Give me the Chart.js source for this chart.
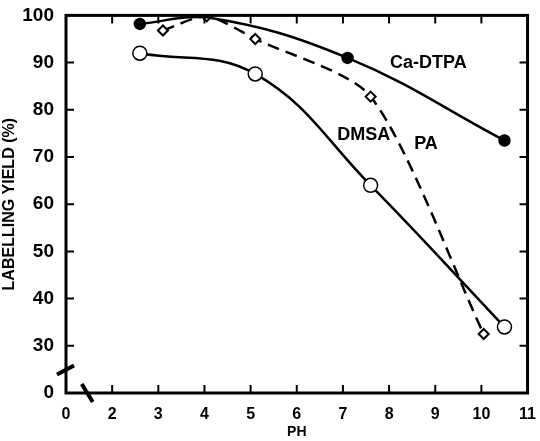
<!DOCTYPE html>
<html>
<head>
<meta charset="utf-8">
<script src="https://cdn.jsdelivr.net/npm/chart.js@4/dist/chart.umd.min.js"></script>
<style>
  html, body { margin: 0; padding: 0; background: #fff; }
  #wrap { width: 540px; height: 441px; }
</style>
</head>
<body>
<div id="wrap"><canvas id="mainChart"></canvas></div>
<script>
// pH values and labelling yields
const caDtpaPh = [2.6, 4.05, 7.1, 10.5];
const caDtpaYield = [98.2, 99.6, 91, 73.5];
const paPh = [3.1, 4.05, 5.1, 7.6, 10.05];
const paYield = [96.8, 99.8, 95, 82.8, 32.5];
const dmsaPh = [2.6, 5.1, 7.6, 10.5];
const dmsaYield = [92, 87.6, 64, 34];
// axis is broken: first tick is labelled 0
const xTicks = [1, 2, 3, 4, 5, 6, 7, 8, 9, 10, 11];
const yTicks = [20, 30, 40, 50, 60, 70, 80, 90, 100];

const FONT = "'Liberation Sans', Arial, sans-serif";
const toXY = (xs, ys) => xs.map((x, i) => ({ x: x, y: ys[i] }));

// frame, inner tick marks, axis breaks and curve labels
const framePlugin = {
  id: 'frame',
  afterDraw(chart) {
    const { ctx, chartArea: a, scales } = chart;
    const xs = scales.x, ys = scales.y;
    ctx.save();
    ctx.strokeStyle = '#000';
    ctx.lineWidth = 3;
    ctx.strokeRect(a.left, a.top, a.right - a.left, a.bottom - a.top);
    ctx.lineWidth = 2;
    ctx.beginPath();
    xTicks.slice(1, -1).forEach(v => {
      const px = xs.getPixelForValue(v);
      ctx.moveTo(px, a.bottom); ctx.lineTo(px, a.bottom - 8);
      ctx.moveTo(px, a.top); ctx.lineTo(px, a.top + 8);
    });
    yTicks.slice(1, -1).forEach(v => {
      const py = ys.getPixelForValue(v);
      ctx.moveTo(a.left, py); ctx.lineTo(a.left + 8, py);
      ctx.moveTo(a.right, py); ctx.lineTo(a.right - 8, py);
    });
    ctx.stroke();
    // axis break marks
    ctx.lineWidth = 4;
    ctx.beginPath();
    const by = ys.getPixelForValue(25);
    ctx.moveTo(a.left - 9, by + 5); ctx.lineTo(a.left + 8, by - 4);
    const bx = xs.getPixelForValue(1.45);
    ctx.moveTo(bx - 5, a.bottom - 9); ctx.lineTo(bx + 6, a.bottom + 9);
    ctx.stroke();
    // curve labels
    ctx.fillStyle = '#000';
    ctx.font = 'bold 18px ' + FONT;
    ctx.textAlign = 'center';
    ctx.textBaseline = 'middle';
    ctx.fillText('Ca-DTPA', xs.getPixelForValue(8.85), ys.getPixelForValue(90));
    ctx.fillText('DMSA', xs.getPixelForValue(7.45), ys.getPixelForValue(74.7));
    ctx.fillText('PA', xs.getPixelForValue(8.8), ys.getPixelForValue(72.8));
    ctx.restore();
  }
};

const chartCtx = document.getElementById('mainChart').getContext('2d');
new Chart(chartCtx, {
  type: 'line',
  data: {
    datasets: [
      {
        label: 'Ca-DTPA',
        data: toXY(caDtpaPh, caDtpaYield),
        borderColor: '#000',
        borderWidth: 2.5,
        backgroundColor: '#000',
        pointRadius: [5, 0, 5, 5],
        pointStyle: 'circle',
        tension: 0.4
      },
      {
        label: 'PA',
        data: toXY(paPh, paYield),
        borderColor: '#000',
        borderWidth: 2.5,
        borderDash: [12, 7],
        backgroundColor: '#fff',
        pointBorderColor: '#000',
        pointBorderWidth: 2,
        pointRadius: 5,
        pointStyle: 'rectRot',
        tension: 0.25
      },
      {
        label: 'DMSA',
        data: toXY(dmsaPh, dmsaYield),
        borderColor: '#000',
        borderWidth: 2.5,
        backgroundColor: '#fff',
        pointBorderColor: '#000',
        pointBorderWidth: 1.5,
        pointRadius: 7,
        pointStyle: 'circle',
        tension: 0.4
      }
    ]
  },
  options: {
    responsive: true,
    maintainAspectRatio: false,
    animation: false,
    layout: { padding: { top: 15, right: 3, left: 0, bottom: 0 } },
    plugins: {
      legend: { display: false },
      tooltip: { enabled: false }
    },
    scales: {
      x: {
        type: 'linear',
        min: 1,
        max: 11,
        afterFit: s => { s.height = 48; },
        afterBuildTicks: s => { s.ticks = xTicks.map(v => ({ value: v })); },
        grid: { display: false },
        border: { display: false },
        ticks: {
          color: '#000',
          padding: 4,
          font: { family: FONT, size: 16, weight: 'bold' },
          callback: v => (v === 1 ? '0' : v)
        },
        title: {
          display: true,
          text: 'PH',
          color: '#000',
          padding: { top: 0, bottom: 0 },
          font: { family: FONT, size: 14, weight: 'bold' }
        }
      },
      y: {
        min: 20,
        max: 100,
        afterFit: s => { s.width = 66; },
        afterBuildTicks: s => { s.ticks = yTicks.map(v => ({ value: v })); },
        grid: { display: false },
        border: { display: false },
        ticks: {
          color: '#000',
          padding: 4,
          font: { family: FONT, size: 19, weight: 'bold' },
          callback: v => (v === 20 ? '0' : v)
        },
        title: {
          display: true,
          text: 'LABELLING YIELD (%)',
          color: '#000',
          padding: { top: 0, bottom: 2 },
          font: { family: FONT, size: 16, weight: 'bold' }
        }
      }
    }
  },
  plugins: [framePlugin]
});
</script>
</body>
</html>
